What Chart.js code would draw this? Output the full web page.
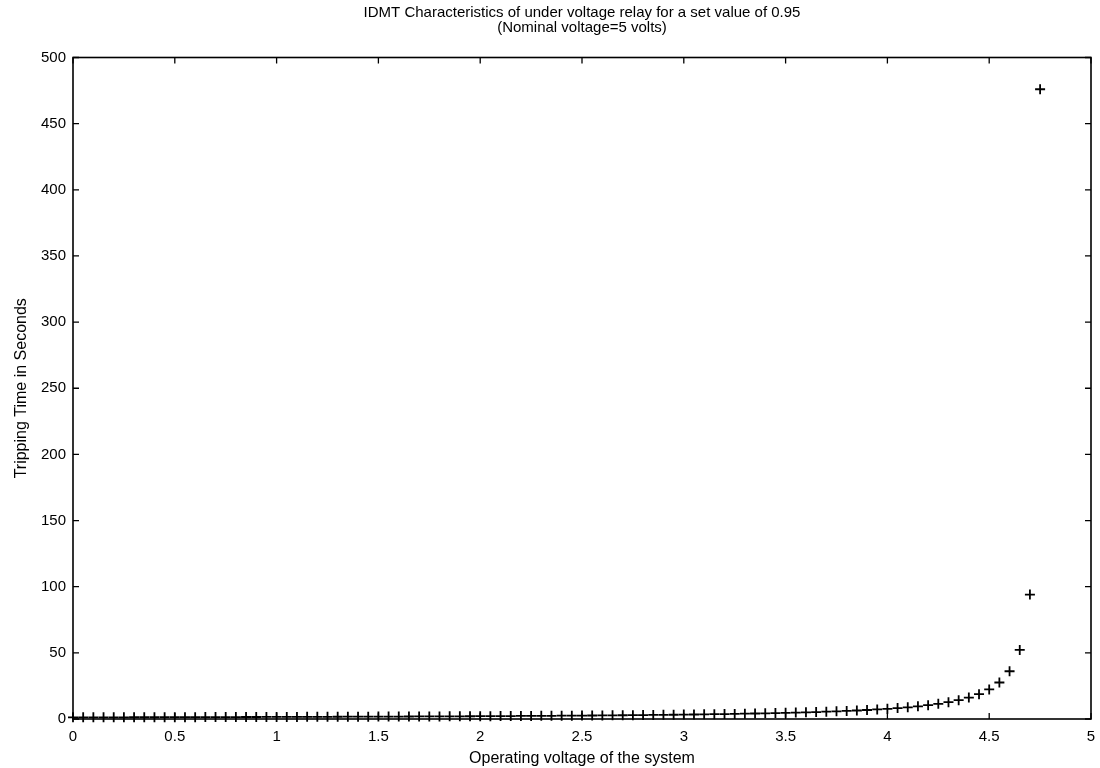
<!DOCTYPE html>
<html>
<head>
<meta charset="utf-8">
<title>IDMT Characteristics</title>
<script src="https://cdn.jsdelivr.net/npm/chart.js@4.4.1/dist/chart.umd.min.js"></script>
<style>
  html, body { margin: 0; padding: 0; background: #fff; }
  canvas { display: block; }
</style>
</head>
<body>
<canvas id="relayChart" width="1100" height="768"></canvas>
<script>
const voltage = [
  0.00, 0.05, 0.10, 0.15, 0.20, 0.25, 0.30, 0.35, 0.40, 0.45,
  0.50, 0.55, 0.60, 0.65, 0.70, 0.75, 0.80, 0.85, 0.90, 0.95,
  1.00, 1.05, 1.10, 1.15, 1.20, 1.25, 1.30, 1.35, 1.40, 1.45,
  1.50, 1.55, 1.60, 1.65, 1.70, 1.75, 1.80, 1.85, 1.90, 1.95,
  2.00, 2.05, 2.10, 2.15, 2.20, 2.25, 2.30, 2.35, 2.40, 2.45,
  2.50, 2.55, 2.60, 2.65, 2.70, 2.75, 2.80, 2.85, 2.90, 2.95,
  3.00, 3.05, 3.10, 3.15, 3.20, 3.25, 3.30, 3.35, 3.40, 3.45,
  3.50, 3.55, 3.60, 3.65, 3.70, 3.75, 3.80, 3.85, 3.90, 3.95,
  4.00, 4.05, 4.10, 4.15, 4.20, 4.25, 4.30, 4.35, 4.40, 4.45,
  4.50, 4.55, 4.60, 4.65, 4.70, 4.75
];
const trippingTime = [
  1.23, 1.24, 1.26, 1.27, 1.28, 1.30, 1.31, 1.33, 1.34, 1.36,
  1.37, 1.39, 1.41, 1.43, 1.44, 1.46, 1.48, 1.50, 1.52, 1.54,
  1.56, 1.58, 1.60, 1.62, 1.65, 1.67, 1.69, 1.72, 1.74, 1.77,
  1.80, 1.82, 1.85, 1.88, 1.91, 1.95, 1.98, 2.01, 2.05, 2.08,
  2.12, 2.16, 2.20, 2.24, 2.29, 2.33, 2.38, 2.43, 2.48, 2.53,
  2.59, 2.65, 2.71, 2.77, 2.84, 2.91, 2.99, 3.06, 3.15, 3.23,
  3.33, 3.42, 3.53, 3.63, 3.75, 3.87, 4.01, 4.15, 4.30, 4.47,
  4.64, 4.83, 5.04, 5.27, 5.52, 5.79, 6.09, 6.42, 6.80, 7.21,
  7.69, 8.23, 8.85, 9.57, 10.42, 11.44, 12.68, 14.21, 16.17, 18.76,
  22.34, 27.60, 36.11, 52.18, 94.06, 476
];
const xTicks = [0, 0.5, 1, 1.5, 2, 2.5, 3, 3.5, 4, 4.5, 5];
const yTicks = [0, 50, 100, 150, 200, 250, 300, 350, 400, 450, 500];

const FONT = "'Liberation Sans', Arial, Helvetica, sans-serif";

// matlab style box with inward ticks on all four sides
const boxPlugin = {
  id: "boxTicks",
  afterDraw(chart) {
    const { ctx, chartArea: a, scales } = chart;
    const len = 6;
    ctx.save();
    ctx.strokeStyle = "#000";
    ctx.lineWidth = 1.6;
    ctx.strokeRect(a.left, a.top, a.right - a.left, a.bottom - a.top);
    ctx.lineWidth = 1.3;
    ctx.beginPath();
    xTicks.forEach(v => {
      const px = scales.x.getPixelForValue(v);
      ctx.moveTo(px, a.bottom); ctx.lineTo(px, a.bottom - len);
      ctx.moveTo(px, a.top); ctx.lineTo(px, a.top + len);
    });
    yTicks.forEach(v => {
      const py = scales.y.getPixelForValue(v);
      ctx.moveTo(a.left, py); ctx.lineTo(a.left + len, py);
      ctx.moveTo(a.right, py); ctx.lineTo(a.right - len, py);
    });
    ctx.stroke();
    ctx.restore();
  }
};

new Chart(document.getElementById("relayChart"), {
  type: "scatter",
  data: {
    datasets: [{
      label: "Tripping time",
      data: voltage.map((v, i) => ({ x: v, y: trippingTime[i] })),
      pointStyle: "cross",
      pointRadius: 5,
      borderColor: "#000",
      backgroundColor: "#000",
      borderWidth: 1.8,
      showLine: false,
      clip: false
    }]
  },
  options: {
    responsive: false,
    animation: false,
    layout: { padding: { left: 0, right: 9, top: 0, bottom: 0 } },
    plugins: {
      legend: { display: false },
      tooltip: { enabled: false },
      title: {
        display: true,
        fullSize: false,
        text: [
          "IDMT Characteristics of under voltage relay for a set value of 0.95",
          "(Nominal voltage=5 volts)"
        ],
        color: "#000",
        font: { family: FONT, size: 15, weight: "normal", lineHeight: 0.95 },
        padding: { top: 6, bottom: 23 }
      }
    },
    scales: {
      x: {
        type: "linear",
        min: 0,
        max: 5,
        afterFit(scale) {
          scale.height = 49;
          scale.paddingLeft = 0;
          scale.paddingRight = 0;
        },
        afterBuildTicks(scale) { scale.ticks = xTicks.map(v => ({ value: v })); },
        grid: { display: false, drawTicks: false },
        border: { display: false },
        ticks: {
          color: "#000", padding: 9, maxRotation: 0,
          font: { family: FONT, size: 15 },
          callback: v => String(v)
        },
        title: {
          display: true,
          text: "Operating voltage of the system",
          color: "#000",
          font: { family: FONT, size: 16 },
          padding: { top: 2, bottom: 0 }
        }
      },
      y: {
        type: "linear",
        min: 0,
        max: 500,
        afterFit(scale) { scale.width = 73; },
        afterBuildTicks(scale) { scale.ticks = yTicks.map(v => ({ value: v })); },
        grid: { display: false, drawTicks: false },
        border: { display: false },
        ticks: {
          color: "#000", padding: 7,
          font: { family: FONT, size: 15 },
          callback: v => String(v)
        },
        title: {
          display: true,
          text: "Tripping Time in Seconds",
          color: "#000",
          font: { family: FONT, size: 16 },
          padding: { top: 12, bottom: 0 }
        }
      }
    }
  },
  plugins: [boxPlugin]
});
</script>
</body>
</html>
